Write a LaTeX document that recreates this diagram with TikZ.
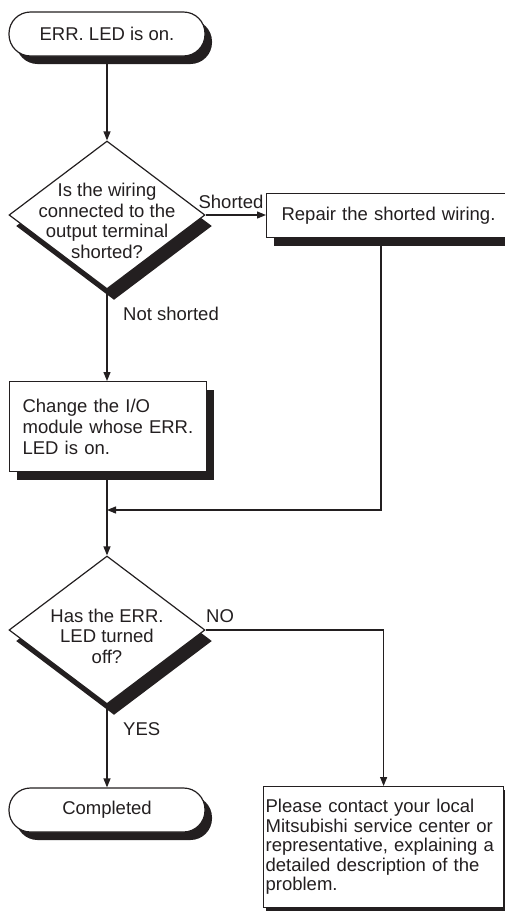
\documentclass[tikz,border=0pt]{standalone}
\usepackage{fontspec}
\setmainfont{Liberation Sans}
\usetikzlibrary{shapes.geometric,arrows.meta,shadows}
\definecolor{ink}{RGB}{35,31,32}
\tikzset{
  basebox/.style={draw=ink, line width=1.2pt, fill=white, text=ink,
    font=\fontsize{18.5}{21}\selectfont},
  bigshadow/.style={drop shadow={shadow xshift=7pt, shadow yshift=-8pt, opacity=1, fill=ink}},
  term/.style={basebox, rectangle, rounded corners=21.5pt, minimum width=196pt,
    minimum height=44pt, inner sep=0pt, bigshadow},
  dia/.style={basebox, diamond, minimum width=196pt, minimum height=148pt, inner sep=0pt,
    drop shadow={shadow xshift=7pt, shadow yshift=-11pt, opacity=1, fill=ink}},
  dtext/.style={align=center, text=ink, inner sep=0pt, font=\fontsize{18.5}{20.5}\selectfont},
  procbox/.style={basebox, rectangle, align=left, inner xsep=13pt, inner ysep=0pt, bigshadow},
  pbox/.style={basebox, rectangle, align=left, inner xsep=2pt, inner ysep=0pt,
    font=\fontsize{18.5}{19.5}\selectfont,
    drop shadow={shadow xshift=2pt, shadow yshift=-3pt, opacity=1, fill=ink}},
  lbl/.style={text=ink, inner sep=0pt, font=\fontsize{18.5}{21}\selectfont},
  arr/.style={draw=ink, line width=1.2pt, -{Triangle[length=9pt,width=7pt]}}
}
\begin{document}
\begin{tikzpicture}[x=1pt,y=-1pt]
\path[use as bounding box] (0,0) rectangle (505,911);
\clip (0,0) rectangle (505,911);
\node[term] (start) at (107,34) {ERR. LED is on.};
\node[dia] (d1) at (107,215) {};
\node[dtext] (d1t) at (107,221) {Is the wiring\\connected to the\\output terminal\\shorted?};
\node[procbox, minimum width=250pt, minimum height=44pt, text width=220pt, inner xsep=15pt, anchor=north west] (repair) at (266,193) {Repair the shorted wiring.};
\node[procbox, minimum width=197pt, minimum height=90pt, text width=171pt, anchor=north west] (change) at (9,381) {Change the I/O\\module whose ERR.\\LED is on.};
\node[dia] (d2) at (107,630) {};
\node[dtext] (d2t) at (107,636) {Has the ERR.\\LED turned\\off?};
\node[term] (done) at (107,810) {Completed};
\node[pbox, minimum width=240pt, minimum height=121pt, text width=236pt, anchor=north west] (contact) at (263,786) {Please contact your local\\Mitsubishi service center or\\representative, explaining a\\detailed description of the\\problem.};
\coordinate (j) at (107,510);
\coordinate (rj) at (381,510);
\draw[arr] (start) -- (d1.north);
\draw[arr] (d1.east) -- (repair.west |- d1.east);
\draw[arr] (d1.south) -- (d1.south |- change.north);
\draw[arr] (repair.south -| rj) -- (rj) -- (j);
\draw[arr] (change.south -| d2.north) -- (d2.north);
\draw[arr] (d2.east) -| (contact.north);
\draw[arr] (d2.south) -- (done.north);
\node[lbl, anchor=base] (ls) at (231,208) {Shorted};
\node[lbl, anchor=base west] (lns) at (123,320) {Not shorted};
\node[lbl, anchor=base west] (lno) at (206,622) {NO};
\node[lbl, anchor=base west] (lyes) at (123,735) {YES};
\end{tikzpicture}
\end{document}
